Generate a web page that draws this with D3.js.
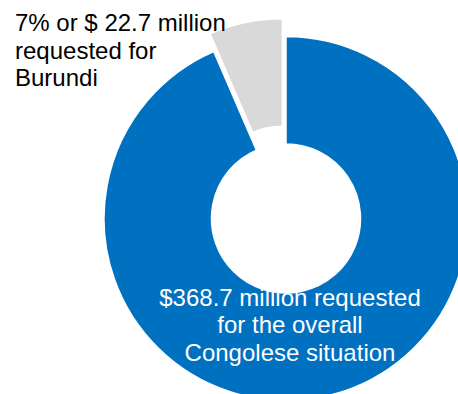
<!DOCTYPE html>
<html>
<head>
<meta charset="utf-8">
<script src="https://cdn.jsdelivr.net/npm/d3@7"></script>
<style>
  html, body { margin: 0; padding: 0; background: #fff; }
  svg { display: block; font-family: "Liberation Sans", Arial, sans-serif; }
</style>
</head>
<body>
<div id="vis"></div>
<script>
// slices, in drawing order (clockwise from 12 o'clock)
var categories = ["Congolese situation", "Burundi"];
var shares = [93.5, 6.5];            // % of the ring
var colors = ["#0070C0", "#D9D9D9"];
var exploded = [false, true];

var leftLabel = ["7% or $ 22.7 million", "requested for", "Burundi"];
var ringLabel = ["$368.7 million requested", "for the overall", "Congolese situation"];

var width = 458, height = 394;
var cx = 286, cy = 218.5,
    outerR = 182, innerR = 74.5,
    explode = 18;

var svg = d3.select("#vis")
  .append("svg")
  .attr("width", width)
  .attr("height", height);

var pie = d3.pie().sort(null).value(function(d) { return d; });
var arc = d3.arc().innerRadius(innerR).outerRadius(outerR);

var data = pie(shares);

var g = svg.append("g")
  .attr("transform", "translate(" + cx + "," + cy + ")");

g.selectAll("path.slice")
  .data(data)
  .enter().append("path")
    .attr("class", "slice")
    .attr("d", arc)
    .attr("fill", function(d, i) { return colors[i]; })
    .attr("stroke", "#fff")
    .attr("stroke-width", 1.5)
    .attr("transform", function(d, i) {
      if (!exploded[i]) return null;
      var a = (d.startAngle + d.endAngle) / 2;
      return "translate(" + (Math.sin(a) * explode) + "," + (-Math.cos(a) * explode) + ")";
    });

// label for the small slice, top left
var lt = svg.append("text")
  .attr("x", 15)
  .attr("y", 31)
  .attr("font-size", "24px")
  .attr("fill", "#000");
lt.selectAll("tspan")
  .data(leftLabel)
  .enter().append("tspan")
    .attr("x", 15)
    .attr("dy", function(d, i) { return i ? 27.5 : 0; })
    .text(function(d) { return d; });

// label inside the big ring
var rt = svg.append("text")
  .attr("y", 305.5)
  .attr("font-size", "24px")
  .attr("text-anchor", "middle")
  .attr("fill", "#fff");
rt.selectAll("tspan")
  .data(ringLabel)
  .enter().append("tspan")
    .attr("x", 290)
    .attr("dy", function(d, i) { return i ? 27.5 : 0; })
    .text(function(d) { return d; });
</script>
</body>
</html>
